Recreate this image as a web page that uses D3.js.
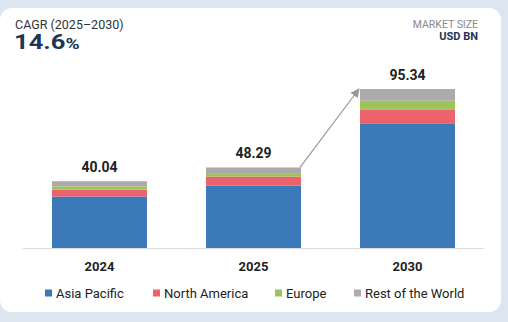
<!DOCTYPE html>
<html>
<head>
<meta charset="utf-8">
<script src="https://cdn.jsdelivr.net/npm/d3@7"></script>
<style>
  html, body { margin: 0; padding: 0; background: #dbe6f1; }
  svg { display: block; font-family: Roboto, "Noto Sans", sans-serif; }
</style>
</head>
<body>
<svg id="chart" width="508" height="322"></svg>
<script>
const years = ["2024", "2025", "2030"];
const totals = [40.04, 48.29, 95.34];
const seriesNames = ["Asia Pacific", "North America", "Europe", "Rest of the World"];
const asiaPacific = [30.9, 37.45, 74.4];
const northAmerica = [4.1, 5.4, 8.4];
const europe = [2.0, 2.05, 5.6];
const restOfWorld = [3.04, 3.39, 6.94];
const colors = ["#3b79b8", "#ec636b", "#9dc35b", "#aeaaab"];

const svg = d3.select("#chart");

// card
svg.append("rect").attr("x", 0).attr("y", 8).attr("width", 501).attr("height", 304)
  .attr("rx", 12).attr("fill", "#ffffff");

// header
svg.append("text").attr("x", 15).attr("y", 28.5).attr("font-size", 12.5).attr("fill", "#333")
  .text("CAGR (2025–2030)");
const big = svg.append("text").attr("transform", "translate(14,48.5) scale(1.28,1)")
  .attr("fill", "#1d3658").attr("font-weight", "bold");
big.append("tspan").attr("font-size", 20).text("14.6");
big.append("tspan").attr("font-size", 15).text("%");

svg.append("text").attr("x", 478).attr("y", 27.8).attr("text-anchor", "end").attr("font-size", 10.5)
  .attr("fill", "#888").text("MARKET SIZE");
svg.append("text").attr("x", 478).attr("y", 39.5).attr("text-anchor", "end").attr("font-size", 11)
  .attr("font-weight", "bold").attr("fill", "#1d3658").text("USD BN");

const data = years.map((y, i) => ({
  year: y,
  "Asia Pacific": asiaPacific[i],
  "North America": northAmerica[i],
  "Europe": europe[i],
  "Rest of the World": restOfWorld[i],
  total: totals[i]
}));

const x = d3.scaleBand().domain(years).range([22.5, 484.5]).paddingInner(0.383).paddingOuter(0.1915);
const y = d3.scaleLinear().domain([0, 95.34]).range([248, 89]);

const stack = d3.stack().keys(seriesNames);
const layers = stack(data);

svg.append("g").selectAll("g").data(layers).join("g")
  .attr("fill", (d, i) => colors[i])
  .selectAll("rect").data(d => d).join("rect")
  .attr("x", d => x(d.data.year))
  .attr("width", x.bandwidth())
  .attr("y", d => y(d[1]))
  .attr("height", d => y(d[0]) - y(d[1]));

// axis
const axis = svg.append("g").attr("transform", "translate(0,248)")
  .call(d3.axisBottom(x).tickSize(0).tickPadding(14));
axis.select(".domain").attr("stroke", "#dcdcdc").attr("d", "M23,0.5H484");
axis.selectAll("text").attr("font-size", 13).attr("font-weight", "bold").attr("fill", "#222")
  .attr("font-family", "Roboto, sans-serif");

// value labels
svg.append("g").selectAll("text").data(data).join("text")
  .attr("x", d => x(d.year) + x.bandwidth() / 2)
  .attr("y", d => y(d.total) - 9.5)
  .attr("text-anchor", "middle").attr("font-size", 14).attr("font-weight", "bold").attr("fill", "#222")
  .text(d => d.total.toFixed(2));

// arrow
svg.append("defs").append("marker").attr("id", "ah").attr("viewBox", "0 0 10 10")
  .attr("refX", 9).attr("refY", 5).attr("markerWidth", 9).attr("markerHeight", 9)
  .attr("markerUnits", "userSpaceOnUse").attr("orient", "auto")
  .append("path").attr("d", "M0,0L10,5L0,10z").attr("fill", "#999");
const x1 = x("2025") + x.bandwidth(), y1 = y(totals[1]);
const x2 = x("2030") - 1, y2 = y(totals[2]);
svg.append("line").attr("x1", x1 - 1).attr("y1", y1).attr("x2", x2).attr("y2", y2)
  .attr("stroke", "#999").attr("stroke-width", 1.2).attr("marker-end", "url(#ah)");

// legend
const legendX = [45, 153, 275, 354];
const lg = svg.append("g").selectAll("g").data(seriesNames).join("g")
  .attr("transform", (d, i) => `translate(${legendX[i]},289.5)`);
lg.append("rect").attr("width", 7).attr("height", 7).attr("fill", (d, i) => colors[i]);
lg.append("text").attr("x", 11).attr("y", 8).attr("font-size", 13).attr("fill", "#222").text(d => d);
</script>
</body>
</html>
